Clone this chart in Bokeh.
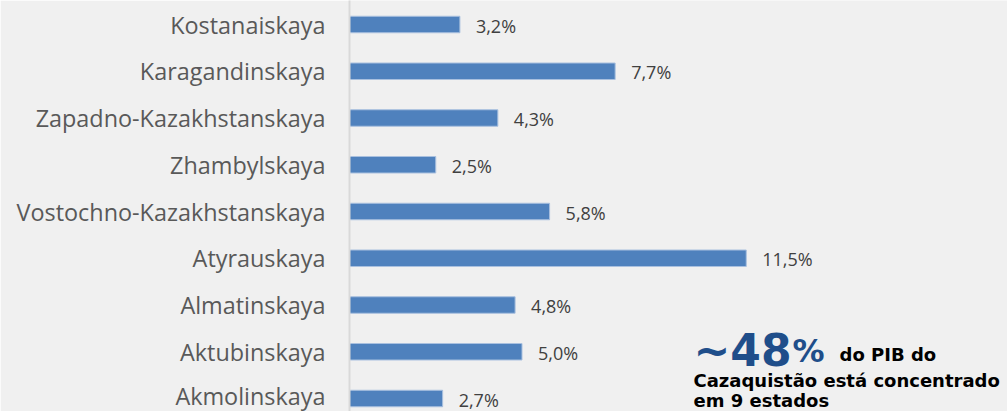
from bokeh.plotting import figure
from bokeh.models import ColumnDataSource, Range1d, FixedTicker, Label
from bokeh.core.properties import value
from bokeh.embed import file_html
from bokeh.resources import INLINE

# Data (top to bottom as displayed)
regions = ["Kostanaiskaya", "Karagandinskaya", "Zapadno-Kazakhstanskaya", "Zhambylskaya",
           "Vostochno-Kazakhstanskaya", "Atyrauskaya", "Almatinskaya", "Aktubinskaya", "Akmolinskaya"]
gdp_share = [3.2, 7.7, 4.3, 2.5, 5.8, 11.5, 4.8, 5.0, 2.7]

n = len(regions)
ypos = [n - 1 - i for i in range(n)]
labels = [("%.1f" % v).replace(".", ",") + "%" for v in gdp_share]

W, H = 1007, 411
LEFT = 349
PX_PER_PCT = 34.5
ROW = 46.75
TOP_CENTER = 24.0

x_end = (W - LEFT) / PX_PER_PCT
y_end = (n - 1) + TOP_CENTER / ROW
y_start = y_end - H / ROW

BG = "#F0F0F0"
p = figure(width=W, height=H, output_backend="svg", toolbar_location=None,
           x_range=Range1d(0, x_end), y_range=Range1d(y_start, y_end),
           min_border_left=LEFT, min_border_right=0, min_border_top=0, min_border_bottom=0,
           background_fill_color=BG, border_fill_color=BG, outline_line_color=None)

src = ColumnDataSource(dict(y=ypos, v=gdp_share, lab=labels))
p.hbar(y="y", left=0, right="v", height=16.5 / ROW, source=src,
       fill_color="#4F81BD", line_color="#A9C0DF", line_width=1)
p.text(x="v", y="y", text="lab", source=src, x_offset=16, y_offset=1,
       text_font=value("Open Sans"), text_font_size="18px", text_color="#404040",
       text_align="left", text_baseline="middle")

p.xaxis.visible = False
p.xgrid.visible = False
p.ygrid.visible = False
ax = p.yaxis[0]
ax.ticker = FixedTicker(ticks=ypos)
ax.major_label_overrides = {y: r for y, r in zip(ypos, regions)}
ax.major_tick_in = 0
ax.major_tick_out = 0
ax.minor_tick_in = 0
ax.minor_tick_out = 0
ax.major_label_standoff = 24
ax.major_label_text_font = "Open Sans"
ax.major_label_text_font_size = "23.4px"
ax.major_label_text_color = "#595959"
ax.axis_line_color = "#D9D9D9"
ax.axis_line_width = 2


def dx(px):
    return (px - LEFT) / PX_PER_PCT


def dy(py):
    return y_end - py / ROW


BLUE = "#1F4E8A"
p.add_layout(Label(x=dx(693), y=dy(350), text="~48", text_font="DejaVu Sans",
                   text_font_style="bold", text_font_size="44px", text_color=BLUE,
                   text_baseline="alphabetic"))
p.add_layout(Label(x=dx(792), y=dy(350), text="%", text_font="DejaVu Sans",
                   text_font_style="bold", text_font_size="32px", text_color=BLUE,
                   text_baseline="alphabetic"))
p.add_layout(Label(x=dx(839), y=dy(354), text="do PIB do", text_font="DejaVu Sans",
                   text_font_style="bold", text_font_size="18px", text_color="#000000",
                   text_baseline="alphabetic"))
p.add_layout(Label(x=dx(693), y=dy(380), text="Cazaquistão está concentrado", text_font="DejaVu Sans",
                   text_font_style="bold", text_font_size="18px", text_color="#000000",
                   text_baseline="alphabetic"))
p.add_layout(Label(x=dx(693), y=dy(400), text="em 9 estados", text_font="DejaVu Sans",
                   text_font_style="bold", text_font_size="18px", text_color="#000000",
                   text_baseline="alphabetic"))

open("out.html", "w").write(file_html(p, INLINE))
